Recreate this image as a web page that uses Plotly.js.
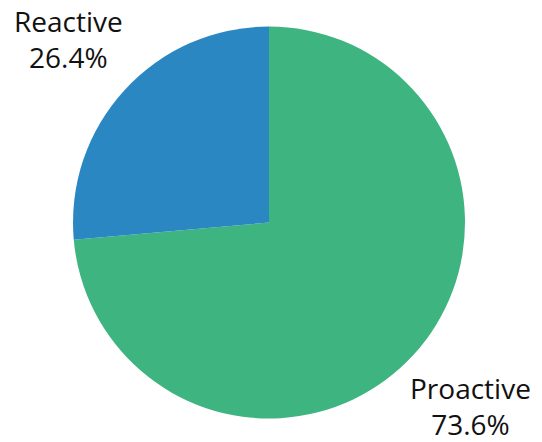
<!DOCTYPE html>
<html>
<head>
<meta charset="utf-8">
<script src="https://cdn.plot.ly/plotly-3.0.1.min.js"></script>
<style>html,body{margin:0;padding:0;background:#fff;}#chart{width:542px;height:442px;}</style>
</head>
<body>
<div id="chart"></div>
<script>
const labels = ["Proactive", "Reactive"];
const values = [73.6, 26.4];
const colors = ["#3eb480", "#2a87c2"];

const labelPos = [
  {x: 470 / 542, y: 1 - 406 / 442},
  {x: 68 / 542, y: 1 - 39 / 442}
];

const annotations = labels.map((l, i) => ({
  text: l + "<br>" + values[i].toFixed(1) + "%",
  x: labelPos[i].x, y: labelPos[i].y,
  xref: "paper", yref: "paper",
  xanchor: "center", yanchor: "middle",
  showarrow: false,
  font: {family: "Open Sans", size: 28, color: "#111"}
}));

const trace = {
  type: "pie",
  labels: labels,
  values: values,
  marker: {colors: colors, line: {width: 0}},
  sort: false,
  direction: "clockwise",
  rotation: 0,
  textinfo: "none",
  hoverinfo: "label+percent",
  domain: {x: [73 / 542, 465 / 542], y: [22 / 442, 417 / 442]}
};

Plotly.newPlot("chart", [trace], {
  width: 542, height: 442,
  margin: {l: 0, r: 0, t: 0, b: 0},
  showlegend: false,
  paper_bgcolor: "#ffffff",
  annotations: annotations
}, {displayModeBar: false, staticPlot: true});
</script>
</body>
</html>
